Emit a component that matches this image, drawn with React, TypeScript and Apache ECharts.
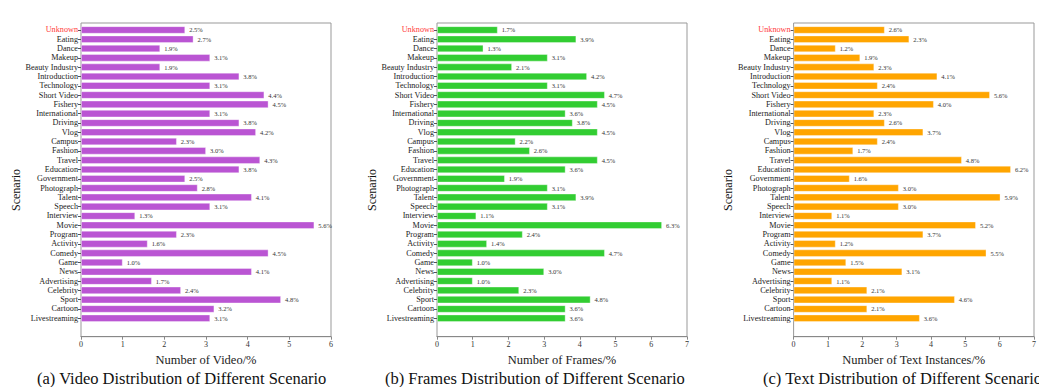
import React, { useEffect, useRef } from "react";
import * as echarts from "echarts";

// Categories listed bottom -> top
const categories = [
  "Livestreaming", "Cartoon", "Sport", "Celebrity", "Advertising", "News", "Game", "Comedy",
  "Activity", "Program", "Movie", "Interview", "Speech", "Talent", "Photograph", "Government",
  "Education", "Travel", "Fashion", "Campus", "Vlog", "Driving", "International", "Fishery",
  "Short Video", "Technology", "Introduction", "Beauty Industry", "Makeup", "Dance", "Eating", "Unknown",
];

const videoValues = [
  3.1, 3.2, 4.8, 2.4, 1.7, 4.1, 1.0, 4.5,
  1.6, 2.3, 5.6, 1.3, 3.1, 4.1, 2.8, 2.5,
  3.8, 4.3, 3.0, 2.3, 4.2, 3.8, 3.1, 4.5,
  4.4, 3.1, 3.8, 1.9, 3.1, 1.9, 2.7, 2.5,
];
const videoLabels = videoValues.map((v) => v.toFixed(1) + "%");

const frameValues = [
  3.6, 3.6, 4.3, 2.3, 1.0, 3.0, 1.0, 4.7,
  1.4, 2.4, 6.3, 1.1, 3.1, 3.9, 3.1, 1.9,
  3.6, 4.5, 2.6, 2.2, 4.5, 3.8, 3.6, 4.5,
  4.7, 3.1, 4.2, 2.1, 3.1, 1.3, 3.9, 1.7,
];
const frameLabels = [
  "3.6%", "3.6%", "4.8%", "2.3%", "1.0%", "3.0%", "1.0%", "4.7%",
  "1.4%", "2.4%", "6.3%", "1.1%", "3.1%", "3.9%", "3.1%", "1.9%",
  "3.6%", "4.5%", "2.6%", "2.2%", "4.5%", "3.8%", "3.6%", "4.5%",
  "4.7%", "3.1%", "4.2%", "2.1%", "3.1%", "1.3%", "3.9%", "1.7%",
];

const textValues = [
  3.6, 2.1, 4.6, 2.1, 1.1, 3.1, 1.5, 5.5,
  1.2, 3.7, 5.2, 1.1, 3.0, 5.9, 3.0, 1.6,
  6.2, 4.8, 1.7, 2.4, 3.7, 2.6, 2.3, 4.0,
  5.6, 2.4, 4.1, 2.3, 1.9, 1.2, 3.3, 2.6,
];
const textLabels = [
  "3.6%", "2.1%", "4.6%", "2.1%", "1.1%", "3.1%", "1.5%", "5.5%",
  "1.2%", "3.7%", "5.2%", "1.1%", "3.0%", "5.9%", "3.0%", "1.6%",
  "6.2%", "4.8%", "1.7%", "2.4%", "3.7%", "2.6%", "2.3%", "4.0%",
  "5.6%", "2.4%", "4.1%", "2.3%", "1.9%", "1.2%", "2.3%", "2.6%",
];

const panels = [
  { values: videoValues, labels: videoLabels, color: "#BA55D3", max: 6, axisName: "Number of Video/%", title: "(a) Video Distribution of Different Scenario", left: 81, width: 250, titleX: 37, yNameX: 16 },
  { values: frameValues, labels: frameLabels, color: "#32CD32", max: 7, axisName: "Number of Frames/%", title: "(b) Frames Distribution of Different Scenario", left: 437, width: 250, titleX: 385, yNameX: 372 },
  { values: textValues, labels: textLabels, color: "#FFA500", max: 7, axisName: "Number of Text Instances/%", title: "(c) Text Distribution of Different Scenario", left: 793.6, width: 250.8, titleX: 763, yNameX: 728 },
];

const FONT = "Liberation Serif, Times New Roman, serif";

export default function App() {
  const ref = useRef<HTMLDivElement>(null);
  useEffect(() => {
    if (!ref.current) return;
    const chart = echarts.init(ref.current, undefined, { renderer: "svg" });
    const grid: any[] = [];
    const xAxis: any[] = [];
    const yAxis: any[] = [];
    const series: any[] = [];
    const graphic: any[] = [];
    panels.forEach((p, i) => {
      // frame grid
      grid.push({ left: p.left, width: p.width, top: 23, height: 313.7, show: true, borderColor: "#999", borderWidth: 1, backgroundColor: "transparent" });
      // bar grid
      grid.push({ left: p.left, width: p.width, top: 25.3, height: 297.6 });
      xAxis.push({
        gridIndex: 2 * i, type: "value", min: 0, max: p.max, interval: 1,
        axisLine: { show: true, lineStyle: { color: "#888", width: 1 } },
        axisTick: { show: true, length: 3, lineStyle: { color: "#888" } },
        axisLabel: { fontFamily: FONT, fontSize: 8, color: "#333", margin: 4 },
        splitLine: { show: false },
        name: p.axisName, nameLocation: "middle", nameGap: 12,
        nameTextStyle: { fontFamily: FONT, fontSize: 12.5, color: "#222", verticalAlign: "top" },
      });
      yAxis.push({ gridIndex: 2 * i, type: "value", show: false, min: 0, max: 1 });
      xAxis.push({ gridIndex: 2 * i + 1, type: "value", min: 0, max: p.max, show: false, splitLine: { show: false } });
      yAxis.push({
        gridIndex: 2 * i + 1, type: "category", data: categories,
        axisLine: { show: false },
        axisTick: { show: true, alignWithLabel: true, length: 3, lineStyle: { color: "#555" } },
        axisLabel: {
          fontFamily: FONT, fontSize: 8.2, color: "#222", margin: 3, interval: 0,
          formatter: (v: string) => (v === "Unknown" ? "{u|" + v + "}" : v),
          rich: { u: { fontFamily: FONT, fontSize: 8.2, color: "#FF3B3B" } },
        },
      });
      series.push({
        type: "bar", xAxisIndex: 2 * i + 1, yAxisIndex: 2 * i + 1,
        data: p.values, barCategoryGap: "20%",
        itemStyle: { color: p.color, borderColor: "rgba(255,255,255,0.45)", borderWidth: 0.8 },
        label: {
          show: true, position: "right", distance: 4,
          fontFamily: FONT, fontSize: 6.5, color: "#333",
          formatter: (params: any) => p.labels[params.dataIndex],
        },
      });
      graphic.push({
        type: "text", x: p.titleX, y: 378,
        style: { text: p.title, font: "16.5px " + FONT, fill: "#111", align: "left", verticalAlign: "middle" },
      });
      graphic.push({
        type: "text", x: p.yNameX, y: 190, rotation: Math.PI / 2,
        style: { text: "Scenario", font: "12px " + FONT, fill: "#111", align: "center", verticalAlign: "middle" },
      });
    });
    chart.setOption({
      animation: false,
      grid, xAxis, yAxis, series, graphic,
    });
    return () => chart.dispose();
  }, []);
  return <div ref={ref} style={{ position: "fixed", left: 0, top: 0, width: 1039, height: 387, background: "#fff" }} />;
}
